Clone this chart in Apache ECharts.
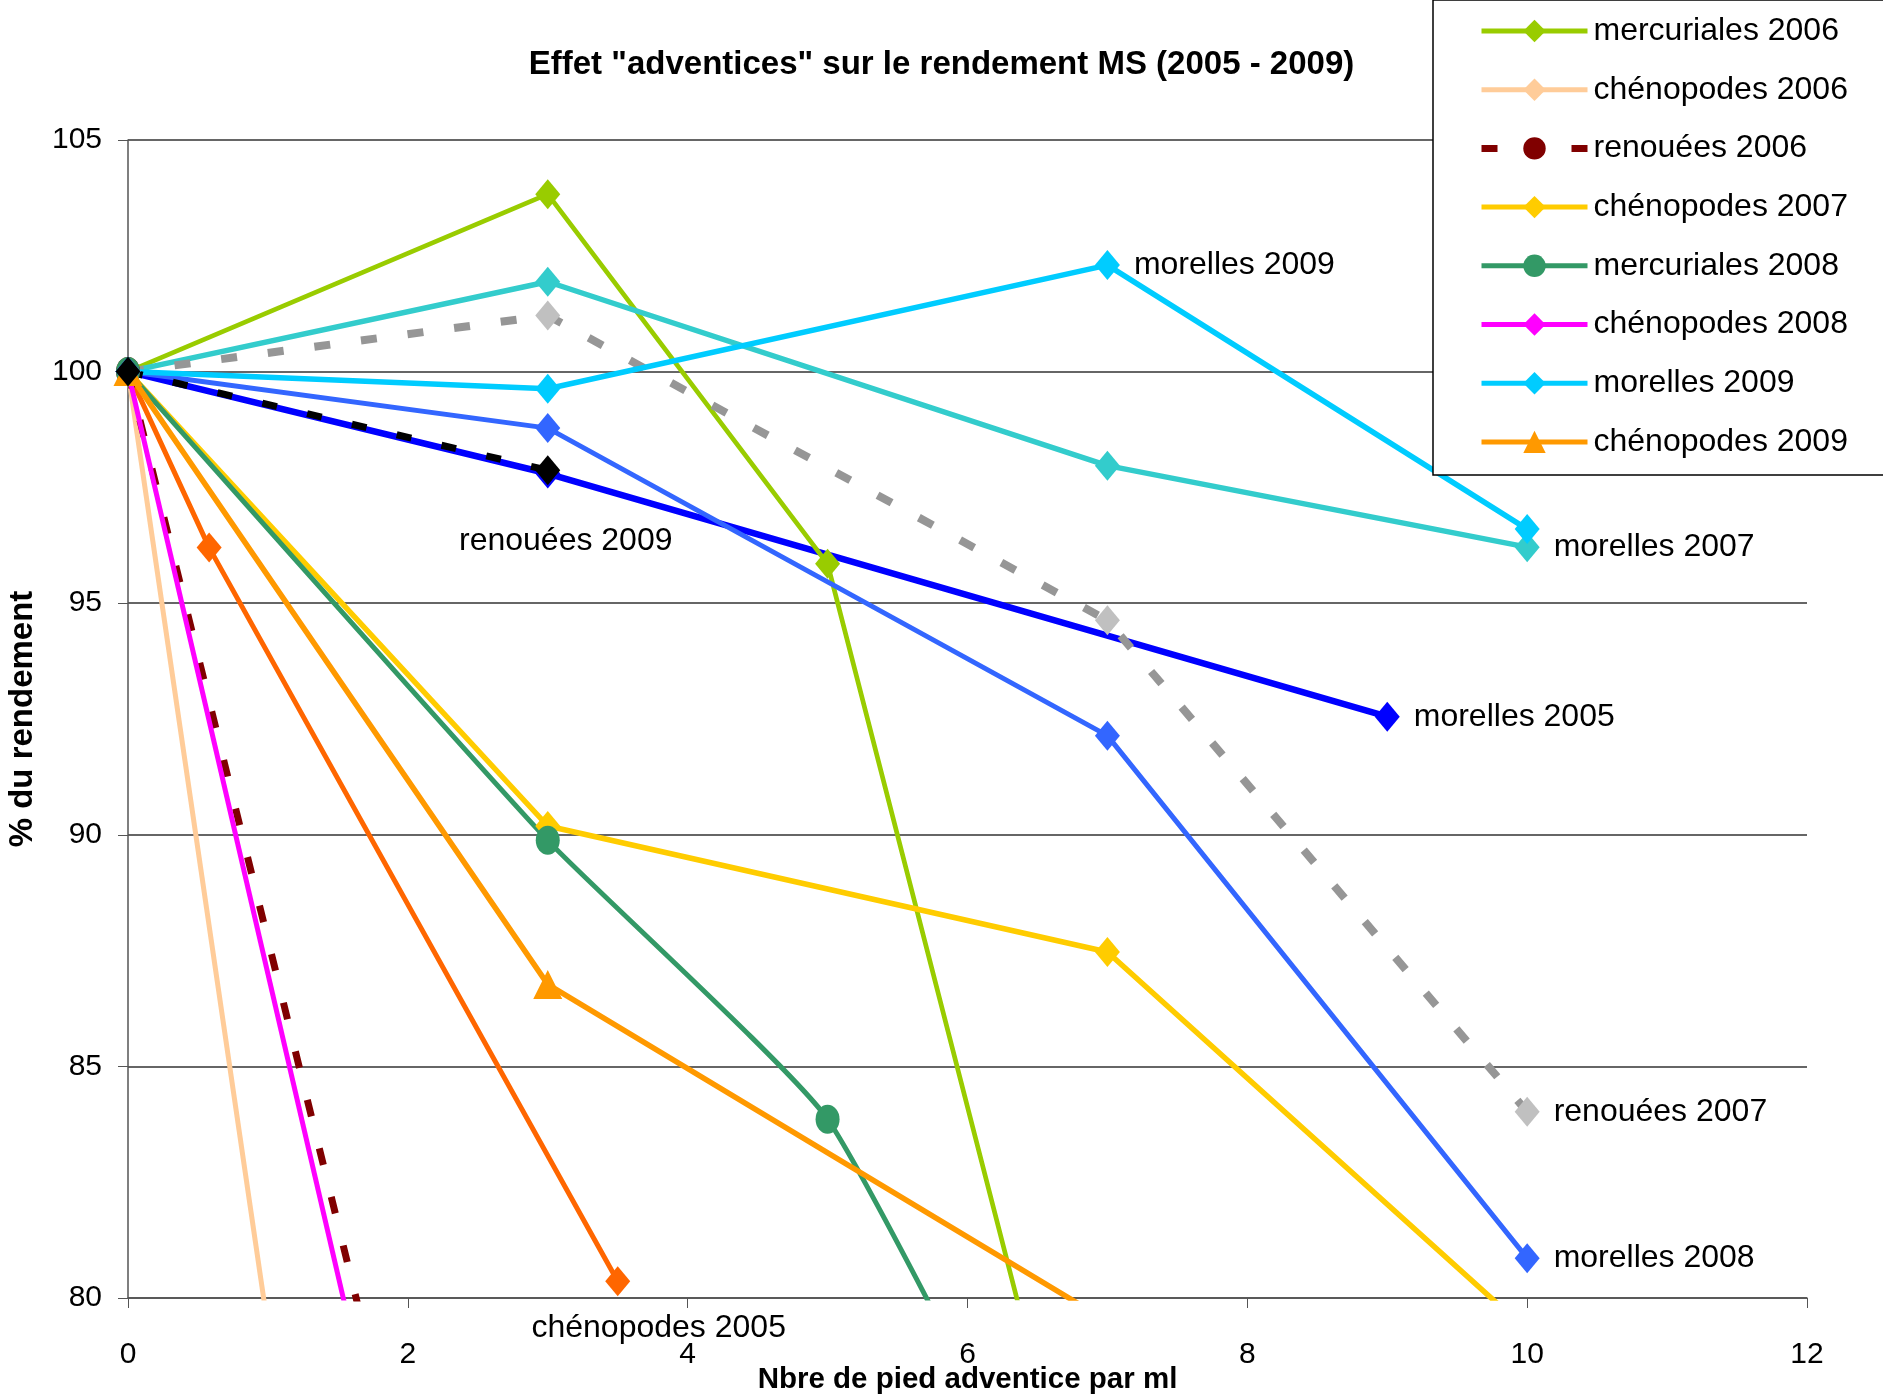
<!DOCTYPE html>
<html><head><meta charset="utf-8">
<script src="https://cdn.jsdelivr.net/npm/echarts@6/dist/echarts.min.js"></script>
<style>html,body{margin:0;padding:0;background:#fff}#c{width:1883px;height:1397px}</style>
</head><body><div id="c"></div>
<script>
const FONT = '"Liberation Sans", Arial, sans-serif';
const titleText = 'Effet "adventices" sur le rendement MS (2005 - 2009)';
const xName = 'Nbre de pied adventice par ml';
const yName = '% du rendement';
const xTicks = [0, 2, 4, 6, 8, 10, 12];
const yTicks = [80, 85, 90, 95, 100, 105];

// [x, y] points (last points of clipped lines lie below the axis)
const morelles2005    = [[0,100],[3,97.8],[9,92.55]];
const chenopodes2005  = [[0,100],[0.58,96.2],[3.5,80.36]];
const mercuriales2006 = [[0,100],[3,103.83],[5,95.85],[7,72.4]];
const chenopodes2006  = [[0,100],[3,38.1]];
const renouees2006    = [[0,100],[3,63.2]];
const morelles2007    = [[0,100],[3,101.94],[7,97.97],[10,96.21]];
const chenopodes2007  = [[0,100],[3,90.19],[7,87.47],[10,79.3]];
const renouees2007    = [[0,100],[3,101.21],[7,94.63],[10,84.02]];
const mercuriales2008 = [[0,100],[3,89.88],[5,83.86],[7,72.3]];
const chenopodes2008  = [[0,100],[3,61.0]];
const morelles2008    = [[0,100],[3,98.78],[7,92.14],[10,80.86]];
const morelles2009    = [[0,100],[3,99.63],[7,102.3],[10,96.6]];
const chenopodes2009  = [[0,100],[3,86.77],[7,79.5]];
const renouees2009    = [[0,100],[3,97.87]];

const legendNames = ['mercuriales 2006','chénopodes 2006','renouées 2006','chénopodes 2007',
  'mercuriales 2008','chénopodes 2008','morelles 2009','chénopodes 2009'];

const DIAMOND = [25, 30], CIRCLE = [24, 29], TRI = [29, 29];
const lblRight = {position: 'right', distance: 14};

function mk(name, data, color, o) {
  o = o || {};
  const d = data.map((p, i) => {
    const item = {value: p};
    if (o.labelIndex === i) {
      item.label = Object.assign({
        show: true, formatter: name, color: '#000',
        fontFamily: FONT, fontSize: 32
      }, o.labelPos || lblRight);
    }
    return item;
  });
  return {
    name: name, type: 'line', data: d, clip: true,
    smooth: o.smooth || false,
    symbol: o.symbol || 'diamond',
    symbolSize: o.symbolSize || DIAMOND,
    showAllSymbol: true,
    lineStyle: {color: color, width: o.width || 5, type: o.dash || 'solid', cap: 'butt'},
    itemStyle: {color: o.markerColor || color, borderWidth: 0},
    emphasis: {disabled: true},
    z: 2
  };
}

const series = [
  mk('morelles 2005', morelles2005, '#0000FF', {width: 6.5, labelIndex: 2}),
  mk('chénopodes 2005', chenopodes2005, '#FF6600', {width: 5, labelIndex: 2,
      labelPos: {position: 'bottom', distance: 5, offset: [41, 11]}}),
  mk('mercuriales 2006', mercuriales2006, '#99CC00', {width: 4.7}),
  mk('chénopodes 2006', chenopodes2006, '#FFCC99', {width: 5}),
  mk('renouées 2006', renouees2006, '#800000', {width: 7, dash: [17, 33], symbol: 'circle', symbolSize: CIRCLE}),
  mk('morelles 2007', morelles2007, '#33CCCC', {width: 5.5, labelIndex: 3}),
  mk('chénopodes 2007', chenopodes2007, '#FFCC00', {width: 5.5}),
  mk('renouées 2007', renouees2007, '#969696', {width: 8, dash: [16, 31], markerColor: '#C0C0C0', labelIndex: 3}),
  mk('mercuriales 2008', mercuriales2008, '#339966', {width: 5, smooth: 0.15, symbol: 'circle', symbolSize: CIRCLE}),
  mk('chénopodes 2008', chenopodes2008, '#FF00FF', {width: 5}),
  mk('morelles 2008', morelles2008, '#3366FF', {width: 5, labelIndex: 3}),
  mk('morelles 2009', morelles2009, '#00CCFF', {width: 5.5, labelIndex: 2}),
  mk('chénopodes 2009', chenopodes2009, '#FF9900', {width: 5.5, symbol: 'triangle', symbolSize: TRI}),
  mk('renouées 2009', renouees2009, '#000000', {width: 7, dash: [15, 31], labelIndex: 1,
      labelPos: {position: 'bottom', distance: 5, offset: [18, 35]}})
];

const legendData = legendNames.map(n => n === 'renouées 2006'
  ? {name: n, lineStyle: {type: [16, 74], width: 7}}
  : {name: n});

const chart = echarts.init(document.getElementById('c'), null, {renderer: 'canvas'});
chart.setOption({
  animation: false,
  backgroundColor: '#fff',
  title: {
    text: titleText, left: 'center', top: 43,
    textStyle: {fontFamily: FONT, fontSize: 33, fontWeight: 'bold', color: '#000'}
  },
  grid: {left: 128, top: 140, right: 76, bottom: 99, containLabel: false, outerBoundsMode: 'none'},
  xAxis: {
    type: 'value', min: xTicks[0], max: xTicks[xTicks.length - 1], interval: 2,
    name: xName, nameLocation: 'middle', nameGap: 67, nameMoveOverlap: false,
    nameTextStyle: {fontFamily: FONT, fontSize: 29.5, fontWeight: 'bold', color: '#000'},
    axisLine: {show: true, onZero: false, lineStyle: {color: '#555', width: 1.5}},
    axisTick: {show: true, length: 10, inside: false, lineStyle: {color: '#555'}},
    axisLabel: {margin: 42, fontFamily: FONT, fontSize: 30, color: '#000'},
    splitLine: {show: false}
  },
  yAxis: {
    type: 'value', min: yTicks[0], max: yTicks[yTicks.length - 1], interval: 5,
    name: yName, nameLocation: 'middle', nameGap: 89, nameRotate: 90, nameMoveOverlap: false,
    nameTextStyle: {fontFamily: FONT, fontSize: 33, fontWeight: 'bold', color: '#000'},
    axisLine: {show: true, onZero: false, lineStyle: {color: '#555', width: 1.5}},
    axisTick: {show: true, length: 10, inside: false, lineStyle: {color: '#555'}},
    axisLabel: {margin: 26, fontFamily: FONT, fontSize: 30, color: '#000'},
    splitLine: {show: true, lineStyle: {color: '#333', width: 1.5}}
  },
  legend: {
    data: legendData, orient: 'vertical', left: 1433, top: 0,
    padding: [15, 300, 17, 45],
    itemWidth: 106, itemHeight: 28, itemGap: 26.7,
    backgroundColor: '#fff', borderColor: '#000', borderWidth: 1.5,
    selectedMode: false,
    lineStyle: {width: 5},
    textStyle: {fontFamily: FONT, fontSize: 32, color: '#000', padding: [0,0,0,1]}
  },
  series: series
});
</script>
</body></html>
